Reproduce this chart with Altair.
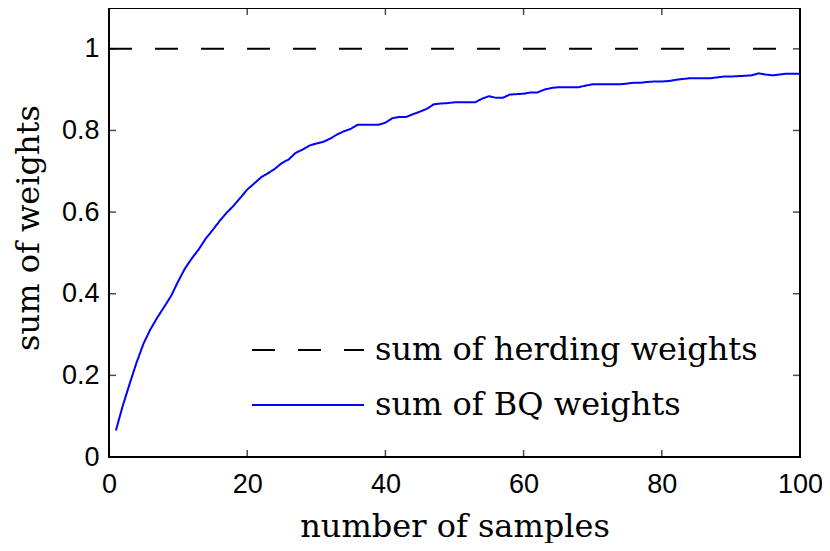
import altair as alt
import pandas as pd

# ---- data ----
samples = list(range(1, 101))
bq_weights = [
    0.065, 0.126, 0.180, 0.232, 0.278, 0.313, 0.342, 0.368, 0.395, 0.430,
    0.462, 0.487, 0.509, 0.535, 0.556, 0.578, 0.598, 0.615, 0.635, 0.655,
    0.670, 0.685, 0.695, 0.706, 0.720, 0.729, 0.745, 0.753, 0.763, 0.768,
    0.772, 0.780, 0.790, 0.798, 0.804, 0.814, 0.814, 0.814, 0.814, 0.819,
    0.830, 0.833, 0.833, 0.840, 0.846, 0.853, 0.864, 0.866, 0.867, 0.869,
    0.869, 0.869, 0.869, 0.878, 0.884, 0.880, 0.880, 0.888, 0.889, 0.890,
    0.893, 0.893, 0.900, 0.904, 0.906, 0.906, 0.906, 0.906, 0.910, 0.913,
    0.913, 0.913, 0.913, 0.913, 0.915, 0.917, 0.917, 0.919, 0.920, 0.920,
    0.921, 0.924, 0.926, 0.928, 0.928, 0.928, 0.928, 0.930, 0.932, 0.932,
    0.933, 0.934, 0.935, 0.940, 0.937, 0.935, 0.937, 0.939, 0.939, 0.939,
]
herding_x = [0, 100]
herding_weights = [1.0, 1.0]
series_names = ["sum of herding weights", "sum of BQ weights"]
x_ticks = [0, 20, 40, 60, 80, 100]
y_ticks = [0, 0.2, 0.4, 0.6, 0.8, 1.0]

# ---- layout / style ----
W, H = 691, 449
SERIF = "DejaVu Serif"
SANS = "Liberation Sans"

df = pd.concat([
    pd.DataFrame({"x": herding_x, "y": herding_weights, "series": series_names[0]}),
    pd.DataFrame({"x": samples, "y": bq_weights, "series": series_names[1]}),
], ignore_index=True)

xscale = alt.Scale(domain=[0, 100], nice=False, zero=False)
yscale = alt.Scale(domain=[0, 1.1], nice=False)

x_axis = alt.Axis(
    values=x_ticks, title="number of samples", domain=False, ticks=False,
    tickSize=0, grid=False, labelFont=SANS, labelFontSize=27,
    labelColor="black", labelPadding=14, labelFlush=False,
    titleFont=SERIF, titleFontSize=32, titleFontWeight="normal",
    titleColor="black", titleBaseline="alphabetic", titleY=79,
)
y_axis = alt.Axis(
    values=y_ticks, format="~g", title="sum of weights", domain=False,
    ticks=False, tickSize=0, grid=False, labelFont=SANS, labelFontSize=27,
    labelColor="black", labelPadding=10, labelFlush=False,
    titleFont=SERIF, titleFontSize=32, titleFontWeight="normal",
    titleColor="black", titleAngle=270, titleAlign="center",
    titleBaseline="alphabetic", titleX=-71, titleY=219.5,
)

legend = alt.Legend(
    title=None, orient="none", legendX=142, legendY=322,
    symbolType="stroke", symbolSize=12544, symbolStrokeWidth=2,
    labelFont=SERIF, labelFontSize=32, labelColor="black", labelOffset=10,
    labelLimit=1000, clipHeight=40, rowPadding=15, padding=0,
)

lines = alt.Chart(df).mark_line(strokeWidth=2, clip=True).encode(
    x=alt.X("x:Q", scale=xscale, axis=x_axis, title="number of samples"),
    y=alt.Y("y:Q", scale=yscale, axis=y_axis, title="sum of weights"),
    color=alt.Color("series:N", scale=alt.Scale(domain=series_names,
                                                range=["#000000", "#0000ff"]),
                    legend=legend),
    strokeDash=alt.StrokeDash("series:N", scale=alt.Scale(domain=series_names,
                                                          range=[[23, 23], [1, 0]]),
                              legend=legend),
    order="x:Q",
)

xt = pd.DataFrame({"x": x_ticks})
yt = pd.DataFrame({"y": y_ticks})
tick_style = dict(size=14, thickness=1.5, color="black", clip=True)

bottom_ticks = alt.Chart(xt).mark_tick(orient="vertical", **tick_style).encode(
    x=alt.X("x:Q", scale=xscale, axis=x_axis, title="number of samples"),
    y=alt.YDatum(0, axis=y_axis, title="sum of weights"))
top_ticks = alt.Chart(xt).mark_tick(orient="vertical", **tick_style).encode(
    x=alt.X("x:Q", scale=xscale, axis=x_axis, title="number of samples"),
    y=alt.YDatum(1.1, axis=y_axis, title="sum of weights"))
left_ticks = alt.Chart(yt).mark_tick(orient="horizontal", **tick_style).encode(
    y=alt.Y("y:Q", scale=yscale, axis=y_axis, title="sum of weights"),
    x=alt.XDatum(0, axis=x_axis, title="number of samples"))
right_ticks = alt.Chart(yt).mark_tick(orient="horizontal", **tick_style).encode(
    y=alt.Y("y:Q", scale=yscale, axis=y_axis, title="sum of weights"),
    x=alt.XDatum(100, axis=x_axis, title="number of samples"))

chart = alt.layer(lines, bottom_ticks, top_ticks, left_ticks, right_ticks).properties(
    width=W, height=H,
    autosize=alt.AutoSizeParams(type="none"),
    padding={"left": 101, "top": 0, "right": 22, "bottom": 86},
    background="white",
).configure_view(stroke="black", strokeWidth=2)

chart.save("out.html", embed_options={"renderer": "svg", "actions": False})
